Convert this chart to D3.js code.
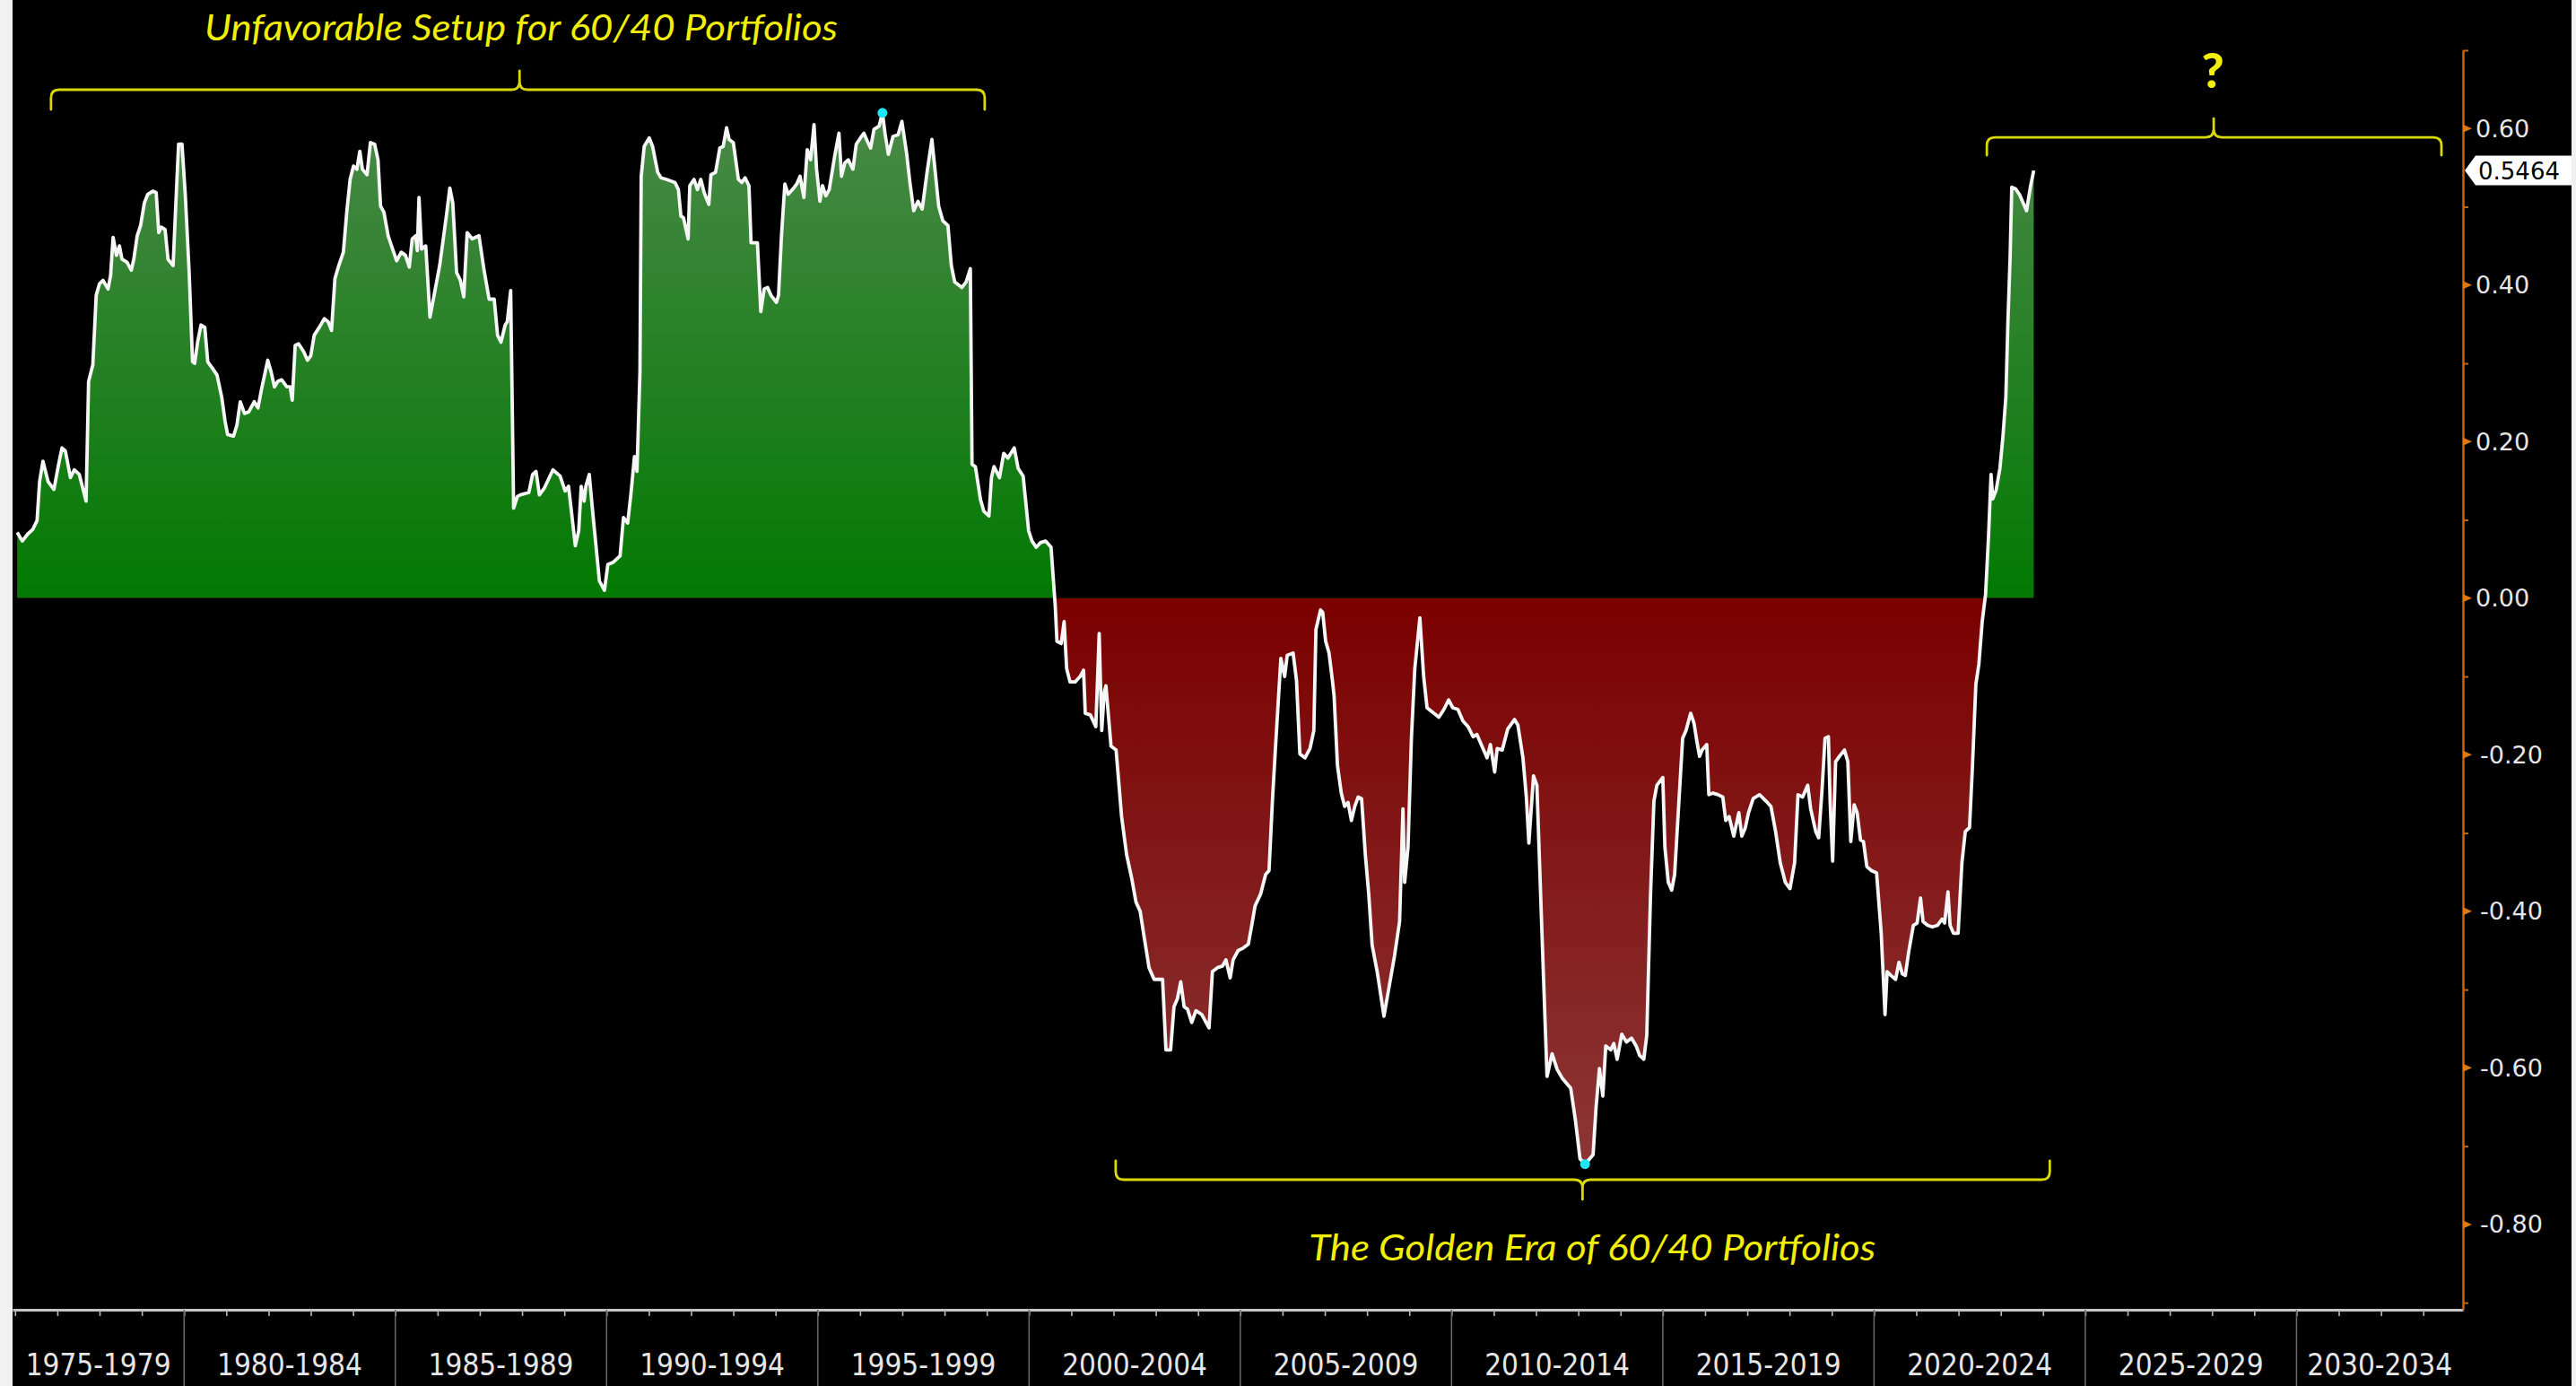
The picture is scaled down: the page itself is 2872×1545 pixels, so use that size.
<!DOCTYPE html>
<html><head><meta charset="utf-8">
<script src="https://cdn.jsdelivr.net/npm/d3@7"></script>
<style>
html,body{margin:0;padding:0;background:#000;overflow:hidden}
svg{display:block}
</style></head><body>
<svg id="chart" width="2872" height="1545"></svg>
<script>
// ---------- DATA ----------
const periodLabels = ["1975-1979","1980-1984","1985-1989","1990-1994","1995-1999","2000-2004","2005-2009","2010-2014","2015-2019","2020-2024","2025-2029","2030-2034"];
const periodStarts = [1975,1980,1985,1990,1995,2000,2005,2010,2015,2020,2025,2030];
const yTickValues = [-0.8,-0.6,-0.4,-0.2,0,0.2,0.4,0.6];
const yMinorValues = [-0.9,-0.7,-0.5,-0.3,-0.1,0.1,0.3,0.5,0.7];
const lastValue = 0.5464;

// [decimal year, value]
const era1976_1987 = [[1976.05,0.084],[1976.17,0.073],[1976.30,0.082],[1976.42,0.088],[1976.52,0.099],[1976.58,0.149],[1976.66,0.175],[1976.78,0.149],[1976.92,0.139],[1977.03,0.171],[1977.11,0.192],[1977.19,0.188],[1977.31,0.154],[1977.40,0.164],[1977.52,0.158],[1977.68,0.124],[1977.74,0.277],[1977.84,0.298],[1977.92,0.387],[1978.00,0.402],[1978.08,0.406],[1978.20,0.395],[1978.26,0.412],[1978.32,0.461],[1978.40,0.438],[1978.47,0.450],[1978.53,0.433],[1978.65,0.429],[1978.75,0.419],[1978.81,0.433],[1978.89,0.463],[1978.97,0.476],[1979.06,0.505],[1979.14,0.516],[1979.26,0.520],[1979.34,0.518],[1979.40,0.467],[1979.46,0.474],[1979.55,0.471],[1979.62,0.433],[1979.74,0.425],[1979.82,0.522],[1979.87,0.580],[1979.95,0.580],[1980.03,0.514],[1980.12,0.416],[1980.20,0.302],[1980.25,0.300],[1980.32,0.327],[1980.40,0.349],[1980.49,0.346],[1980.56,0.302],[1980.68,0.293],[1980.78,0.285],[1980.89,0.257],[1980.97,0.226],[1981.03,0.209],[1981.17,0.207],[1981.25,0.221],[1981.33,0.251],[1981.43,0.236],[1981.53,0.238],[1981.66,0.251],[1981.75,0.243],[1981.83,0.266],[1981.98,0.304],[1982.06,0.289],[1982.14,0.270],[1982.22,0.277],[1982.31,0.279],[1982.43,0.270],[1982.51,0.270],[1982.56,0.253],[1982.63,0.323],[1982.71,0.325],[1982.83,0.315],[1982.92,0.304],[1983.00,0.310],[1983.08,0.336],[1983.20,0.346],[1983.32,0.357],[1983.41,0.353],[1983.49,0.342],[1983.57,0.408],[1983.65,0.423],[1983.77,0.442],[1983.85,0.493],[1983.93,0.535],[1984.01,0.552],[1984.09,0.548],[1984.16,0.571],[1984.22,0.548],[1984.33,0.541],[1984.41,0.582],[1984.51,0.580],[1984.59,0.560],[1984.65,0.501],[1984.73,0.493],[1984.83,0.463],[1984.91,0.450],[1985.03,0.431],[1985.14,0.442],[1985.24,0.438],[1985.33,0.423],[1985.40,0.459],[1985.48,0.463],[1985.52,0.444],[1985.56,0.512],[1985.62,0.446],[1985.72,0.450],[1985.82,0.359],[1985.90,0.382],[1986.05,0.425],[1986.21,0.489],[1986.29,0.524],[1986.36,0.505],[1986.45,0.416],[1986.54,0.406],[1986.62,0.385],[1986.70,0.467],[1986.82,0.459],[1986.98,0.463],[1987.10,0.419],[1987.22,0.382],[1987.34,0.382],[1987.42,0.336],[1987.50,0.327],[1987.60,0.349],[1987.65,0.353],[1987.73,0.393],[1987.80,0.115],[1987.89,0.130]];

const era1988_1999 = [[1987.96,0.132],[1988.16,0.135],[1988.25,0.158],[1988.33,0.162],[1988.41,0.132],[1988.53,0.141],[1988.73,0.164],[1988.90,0.156],[1989.02,0.137],[1989.10,0.143],[1989.26,0.067],[1989.34,0.086],[1989.40,0.143],[1989.47,0.124],[1989.51,0.143],[1989.59,0.158],[1989.67,0.111],[1989.83,0.022],[1989.95,0.010],[1990.03,0.043],[1990.16,0.046],[1990.32,0.054],[1990.40,0.103],[1990.50,0.096],[1990.58,0.135],[1990.66,0.181],[1990.72,0.162],[1990.79,0.289],[1990.82,0.539],[1990.89,0.577],[1991.01,0.588],[1991.09,0.577],[1991.21,0.544],[1991.29,0.537],[1991.42,0.535],[1991.62,0.531],[1991.70,0.522],[1991.76,0.488],[1991.82,0.486],[1991.93,0.459],[1991.97,0.527],[1992.07,0.535],[1992.15,0.522],[1992.23,0.535],[1992.31,0.518],[1992.42,0.503],[1992.47,0.541],[1992.58,0.544],[1992.68,0.575],[1992.76,0.577],[1992.84,0.601],[1992.90,0.586],[1993.00,0.582],[1993.12,0.535],[1993.20,0.531],[1993.28,0.537],[1993.37,0.527],[1993.42,0.454],[1993.57,0.454],[1993.65,0.366],[1993.73,0.395],[1993.81,0.397],[1993.89,0.387],[1994.02,0.378],[1994.07,0.387],[1994.14,0.463],[1994.22,0.529],[1994.30,0.516],[1994.40,0.522],[1994.50,0.529],[1994.58,0.539],[1994.67,0.512],[1994.75,0.573],[1994.83,0.560],[1994.91,0.605],[1994.97,0.548],[1995.05,0.507],[1995.11,0.527],[1995.19,0.514],[1995.27,0.522],[1995.40,0.565],[1995.50,0.594],[1995.56,0.539],[1995.64,0.556],[1995.72,0.560],[1995.83,0.548],[1995.91,0.580],[1996.01,0.588],[1996.09,0.594],[1996.17,0.584],[1996.25,0.575],[1996.33,0.599],[1996.45,0.603],[1996.53,0.620],[1996.59,0.594],[1996.67,0.567],[1996.78,0.590],[1996.90,0.592],[1996.99,0.609],[1997.10,0.569],[1997.18,0.531],[1997.27,0.495],[1997.37,0.507],[1997.47,0.497],[1997.59,0.546],[1997.70,0.586],[1997.78,0.544],[1997.86,0.501],[1997.96,0.482],[1998.08,0.476],[1998.16,0.425],[1998.24,0.404],[1998.41,0.397],[1998.51,0.404],[1998.61,0.421],[1998.65,0.171],[1998.73,0.168],[1998.85,0.126],[1998.93,0.111],[1999.05,0.105],[1999.11,0.154],[1999.17,0.168],[1999.30,0.154],[1999.40,0.185],[1999.50,0.179],[1999.65,0.192],[1999.74,0.166],[1999.86,0.156],[1999.99,0.086]];

const era2000_2011 = [[2000.07,0.073],[2000.17,0.065],[2000.27,0.071],[2000.39,0.073],[2000.52,0.065],[2000.58,0.020],[2000.62,-0.010],[2000.66,-0.055],[2000.76,-0.058],[2000.83,-0.030],[2000.89,-0.090],[2000.97,-0.107],[2001.09,-0.107],[2001.21,-0.100],[2001.29,-0.092],[2001.33,-0.147],[2001.45,-0.149],[2001.58,-0.164],[2001.66,-0.045],[2001.72,-0.169],[2001.78,-0.120],[2001.82,-0.112],[2001.94,-0.189],[2002.06,-0.194],[2002.19,-0.279],[2002.31,-0.328],[2002.43,-0.358],[2002.53,-0.388],[2002.63,-0.400],[2002.71,-0.428],[2002.84,-0.472],[2002.96,-0.487],[2003.16,-0.487],[2003.24,-0.577],[2003.35,-0.577],[2003.43,-0.522],[2003.51,-0.512],[2003.59,-0.490],[2003.67,-0.522],[2003.75,-0.525],[2003.85,-0.542],[2003.95,-0.527],[2004.09,-0.532],[2004.26,-0.549],[2004.34,-0.477],[2004.46,-0.472],[2004.58,-0.470],[2004.66,-0.462],[2004.76,-0.485],[2004.83,-0.462],[2004.95,-0.450],[2005.07,-0.447],[2005.19,-0.442],[2005.27,-0.418],[2005.35,-0.393],[2005.48,-0.378],[2005.60,-0.353],[2005.68,-0.348],[2005.76,-0.259],[2005.84,-0.184],[2005.96,-0.077],[2006.05,-0.100],[2006.11,-0.073],[2006.25,-0.070],[2006.33,-0.105],[2006.41,-0.199],[2006.53,-0.204],[2006.65,-0.192],[2006.74,-0.169],[2006.79,-0.040],[2006.90,-0.015],[2006.95,-0.018],[2007.02,-0.055],[2007.10,-0.070],[2007.18,-0.105],[2007.22,-0.125],[2007.30,-0.214],[2007.39,-0.249],[2007.47,-0.266],[2007.55,-0.261],[2007.63,-0.284],[2007.71,-0.266],[2007.79,-0.254],[2007.87,-0.256],[2007.96,-0.328],[2008.04,-0.378],[2008.12,-0.443],[2008.24,-0.477],[2008.40,-0.534],[2008.52,-0.497],[2008.65,-0.457],[2008.77,-0.413],[2008.85,-0.269],[2008.89,-0.363],[2008.97,-0.318],[2009.05,-0.179],[2009.13,-0.090],[2009.25,-0.025],[2009.34,-0.100],[2009.42,-0.140],[2009.58,-0.147],[2009.70,-0.152],[2009.82,-0.142],[2009.93,-0.130],[2010.03,-0.140],[2010.15,-0.142],[2010.27,-0.157],[2010.39,-0.164],[2010.51,-0.177],[2010.60,-0.174],[2010.72,-0.189],[2010.84,-0.204],[2010.92,-0.187],[2011.02,-0.222],[2011.08,-0.192],[2011.20,-0.194],[2011.33,-0.167],[2011.49,-0.155],[2011.57,-0.162],[2011.69,-0.204],[2011.77,-0.254],[2011.83,-0.313],[2011.94,-0.227]];

const era2012_2023 = [[2012.02,-0.239],[2012.14,-0.428],[2012.26,-0.611],[2012.38,-0.582],[2012.50,-0.602],[2012.63,-0.614],[2012.82,-0.626],[2012.93,-0.666],[2013.04,-0.716],[2013.16,-0.723],[2013.35,-0.711],[2013.42,-0.651],[2013.50,-0.601],[2013.58,-0.636],[2013.65,-0.572],[2013.77,-0.577],[2013.84,-0.569],[2013.92,-0.589],[2014.03,-0.557],[2014.14,-0.567],[2014.26,-0.562],[2014.37,-0.572],[2014.45,-0.584],[2014.55,-0.589],[2014.62,-0.559],[2014.71,-0.378],[2014.79,-0.259],[2014.86,-0.239],[2015.00,-0.229],[2015.05,-0.318],[2015.13,-0.363],[2015.21,-0.373],[2015.28,-0.353],[2015.36,-0.279],[2015.47,-0.179],[2015.55,-0.169],[2015.66,-0.147],[2015.74,-0.160],[2015.81,-0.184],[2015.87,-0.202],[2015.93,-0.194],[2016.04,-0.187],[2016.09,-0.251],[2016.19,-0.249],[2016.31,-0.251],[2016.42,-0.254],[2016.49,-0.284],[2016.57,-0.279],[2016.68,-0.304],[2016.80,-0.274],[2016.87,-0.304],[2016.95,-0.294],[2017.03,-0.274],[2017.14,-0.256],[2017.29,-0.251],[2017.44,-0.259],[2017.56,-0.266],[2017.67,-0.298],[2017.78,-0.338],[2017.90,-0.363],[2018.01,-0.371],[2018.12,-0.338],[2018.20,-0.251],[2018.31,-0.254],[2018.43,-0.239],[2018.50,-0.269],[2018.62,-0.298],[2018.69,-0.306],[2018.77,-0.244],[2018.84,-0.179],[2018.92,-0.177],[2018.96,-0.259],[2019.02,-0.336],[2019.09,-0.209],[2019.18,-0.202],[2019.30,-0.194],[2019.38,-0.209],[2019.45,-0.311],[2019.53,-0.264],[2019.60,-0.274],[2019.68,-0.309],[2019.75,-0.311],[2019.83,-0.343],[2019.94,-0.348],[2020.06,-0.351],[2020.17,-0.428],[2020.26,-0.532],[2020.31,-0.477],[2020.40,-0.482],[2020.51,-0.487],[2020.59,-0.465],[2020.67,-0.480],[2020.74,-0.482],[2020.82,-0.452],[2020.93,-0.418],[2021.02,-0.415],[2021.10,-0.383],[2021.16,-0.413],[2021.27,-0.418],[2021.38,-0.420],[2021.50,-0.418],[2021.61,-0.410],[2021.67,-0.415],[2021.75,-0.375],[2021.80,-0.418],[2021.88,-0.428],[2021.99,-0.428],[2022.08,-0.338],[2022.16,-0.298],[2022.26,-0.293],[2022.33,-0.214],[2022.41,-0.110],[2022.48,-0.085],[2022.56,-0.030],[2022.64,0.005],[2022.71,0.079],[2022.77,0.158],[2022.81,0.127],[2022.89,0.138],[2022.98,0.166],[2023.05,0.206],[2023.12,0.257],[2023.17,0.355],[2023.22,0.434],[2023.26,0.525],[2023.35,0.523],[2023.45,0.515],[2023.61,0.495],[2023.70,0.525],[2023.78,0.5464]];

// annotations: [startYear, endYear, midYear, lineValue]
const braceTop = [1976.85, 1998.95, 1987.94, 0.6496];
const braceRight = [2022.67, 2033.43, 2028.04, 0.5888];
const braceBottom = [2002.05, 2024.16, 2013.10, -0.7428];
const annotationTexts = [
  {text:"Unfavorable Setup for 60/40 Portfolios", year:1987.98, value:0.7126},
  {text:"?", year:2028.02, value:0.6517, bold:true},
  {text:"The Golden Era of 60/40 Portfolios", year:2013.33, value:-0.8459}
];
const annotationWidths = [706, null, 632];

// ---------- CHART ----------
const W = 2872, H = 1545;
const svg = d3.select("#chart");
const x = d3.scaleLinear().domain([1975.94, 2033.94]).range([14, 2746]);
const y = d3.scaleLinear().domain([-0.909, 0.7]).range([1460, 56]);

const series = [].concat(era1976_1987, era1988_1999, era2000_2011, era2012_2023);

svg.append("rect").attr("width", W).attr("height", H).attr("fill", "#000");
svg.append("rect").attr("x", 0).attr("y", 0).attr("width", 14).attr("height", H).attr("fill", "#f1f1f1");
svg.append("rect").attr("x", 2867).attr("y", 0).attr("width", 5).attr("height", H).attr("fill", "#f1f1f1");

const defs = svg.append("defs");
const gGreen = defs.append("linearGradient").attr("id","gGreen").attr("gradientUnits","userSpaceOnUse")
  .attr("x1",0).attr("x2",0).attr("y1",y(0.62)).attr("y2",y(0));
gGreen.append("stop").attr("offset",0).attr("stop-color","#4a8948");
gGreen.append("stop").attr("offset",1).attr("stop-color","#027902");
const gRed = defs.append("linearGradient").attr("id","gRed").attr("gradientUnits","userSpaceOnUse")
  .attr("x1",0).attr("x2",0).attr("y1",y(0)).attr("y2",y(-0.73));
gRed.append("stop").attr("offset",0).attr("stop-color","#7b0000");
gRed.append("stop").attr("offset",1).attr("stop-color","#8c3636");
defs.append("clipPath").attr("id","clipAbove").append("rect")
  .attr("x",0).attr("y",0).attr("width",W).attr("height",y(0));
defs.append("clipPath").attr("id","clipBelow").append("rect")
  .attr("x",0).attr("y",y(0)).attr("width",W).attr("height",H-y(0));

const area = d3.area().x(d=>x(d[0])).y0(y(0)).y1(d=>y(d[1]));
svg.append("path").datum(series).attr("d",area).attr("fill","url(#gGreen)").attr("clip-path","url(#clipAbove)");
svg.append("path").datum(series).attr("d",area).attr("fill","url(#gRed)").attr("clip-path","url(#clipBelow)");

const line = d3.line().x(d=>x(d[0])).y(d=>y(d[1]));
svg.append("path").datum(series).attr("d",line).attr("fill","none")
  .attr("stroke","#f6f6f6").attr("stroke-width",3.8).attr("stroke-linejoin","round");

// extremes markers
const maxPt = series.reduce((a,b)=>b[1]>a[1]?b:a);
const minPt = series.reduce((a,b)=>b[1]<a[1]?b:a);
svg.selectAll("circle.ext").data([maxPt,minPt]).enter().append("circle")
  .attr("cx",d=>x(d[0])).attr("cy",d=>y(d[1])).attr("r",5.5).attr("fill","#1ee6f5");

// ---------- BOTTOM AXIS ----------
const xAxis = d3.axisBottom(x).tickValues(d3.range(1976, 2034)).tickSize(7).tickSizeOuter(0).tickFormat("");
const gx = svg.append("g").attr("transform",`translate(0,${y.range()[0]})`).call(xAxis);
gx.select(".domain").attr("stroke","#c4c4c4").attr("stroke-width",3);
gx.selectAll(".tick line").attr("stroke","#b8b8b8").attr("stroke-width",1.6);

svg.selectAll("line.sep").data(periodStarts.filter(s=>s>x.domain()[0])).enter().append("line")
  .attr("x1",d=>x(d)).attr("x2",d=>x(d)).attr("y1",y.range()[0]).attr("y2",H)
  .attr("stroke","#6a6a6a").attr("stroke-width",1.5);

svg.selectAll("text.period").data(periodLabels).enter().append("text")
  .attr("x",(d,i)=>{const a=Math.max(periodStarts[i],x.domain()[0]);const b=Math.min(periodStarts[i]+5,x.domain()[1]);return x((a+b)/2);})
  .attr("y",1521).attr("text-anchor","middle").attr("dominant-baseline","central")
  .attr("font-family","'DejaVu Sans Condensed','DejaVu Sans',sans-serif").attr("font-stretch","condensed")
  .attr("font-size",33).attr("fill","#e6e6e6").text(d=>d);

// ---------- RIGHT AXIS ----------
const axisX = x.range()[1];
const yAxis = d3.axisRight(y).tickValues(yMinorValues).tickSize(6).tickSizeOuter(0).tickFormat("");
const gy = svg.append("g").attr("transform",`translate(${axisX},0)`).call(yAxis);
gy.select(".domain").attr("stroke","#c8650c").attr("stroke-width",2.5);
gy.selectAll(".tick line").attr("stroke","#c8650c").attr("stroke-width",2);

svg.selectAll("path.maj").data(yTickValues).enter().append("path")
  .attr("d",d=>`M${axisX},${y(d)-4.5} L${axisX+10},${y(d)} L${axisX},${y(d)+4.5} Z`)
  .attr("fill","#e07810");

svg.selectAll("text.ylab").data(yTickValues).enter().append("text")
  .attr("x",d=>axisX + (d<0?19:14)).attr("y",d=>y(d)).attr("dominant-baseline","central")
  .attr("font-family","'DejaVu Sans',sans-serif").attr("font-size",27).attr("fill","#e6e6e6")
  .text(d=>(d<0?"-":"")+Math.abs(d).toFixed(2));

// last value flag
const ly = y(lastValue);
svg.append("path")
  .attr("d",`M${axisX+2},${ly} L${axisX+14},${ly-16.5} L${2867},${ly-16.5} L${2867},${ly+16.5} L${axisX+14},${ly+16.5} Z`)
  .attr("fill","#ffffff");
svg.append("text").attr("x",axisX+17).attr("y",ly+1).attr("dominant-baseline","central")
  .attr("font-family","'DejaVu Sans',sans-serif").attr("font-size",26).attr("fill","#000")
  .text(lastValue.toFixed(4));

// ---------- ANNOTATIONS ----------
const yellowLine = "#d9d90a", yellowText = "#f2ee0c";
function bracePath(b, endDy, tipDy){
  const x1=x(b[0]), x2=x(b[1]), xm=x(b[2]), yh=y(b[3]);
  const r=9, se=Math.sign(endDy), st=Math.sign(tipDy);
  return `M${x1},${yh+endDy} L${x1},${yh+se*r} Q${x1},${yh} ${x1+r},${yh} L${xm-r},${yh} Q${xm},${yh} ${xm},${yh+st*r} L${xm},${yh+tipDy} `+
         `M${xm},${yh+tipDy} L${xm},${yh+st*r} Q${xm},${yh} ${xm+r},${yh} L${x2-r},${yh} Q${x2},${yh} ${x2},${yh+se*r} L${x2},${yh+endDy}`;
}
svg.selectAll("path.brace").data([[braceTop,22,-21],[braceRight,20,-21],[braceBottom,-21,22]]).enter().append("path")
  .attr("d",d=>bracePath(d[0],d[1],d[2])).attr("fill","none").attr("stroke",yellowLine)
  .attr("stroke-width",2.8).attr("stroke-linecap","round").attr("stroke-linejoin","round");

svg.selectAll("text.ann").data(annotationTexts).enter().append("text")
  .attr("x",d=>x(d.year)).attr("y",d=>y(d.value)).attr("text-anchor","middle")
  .attr("font-family","Lato, 'Open Sans', sans-serif")
  .attr("font-style",d=>d.bold?"normal":"italic").attr("font-weight",d=>d.bold?900:400)
  .attr("font-size",d=>d.bold?54:41).attr("fill",yellowText)
  .each(function(d,i){ if(annotationWidths[i]){ d3.select(this).attr("textLength",annotationWidths[i]).attr("lengthAdjust","spacingAndGlyphs"); } })
  .text(d=>d.text);
</script>
</body></html>
